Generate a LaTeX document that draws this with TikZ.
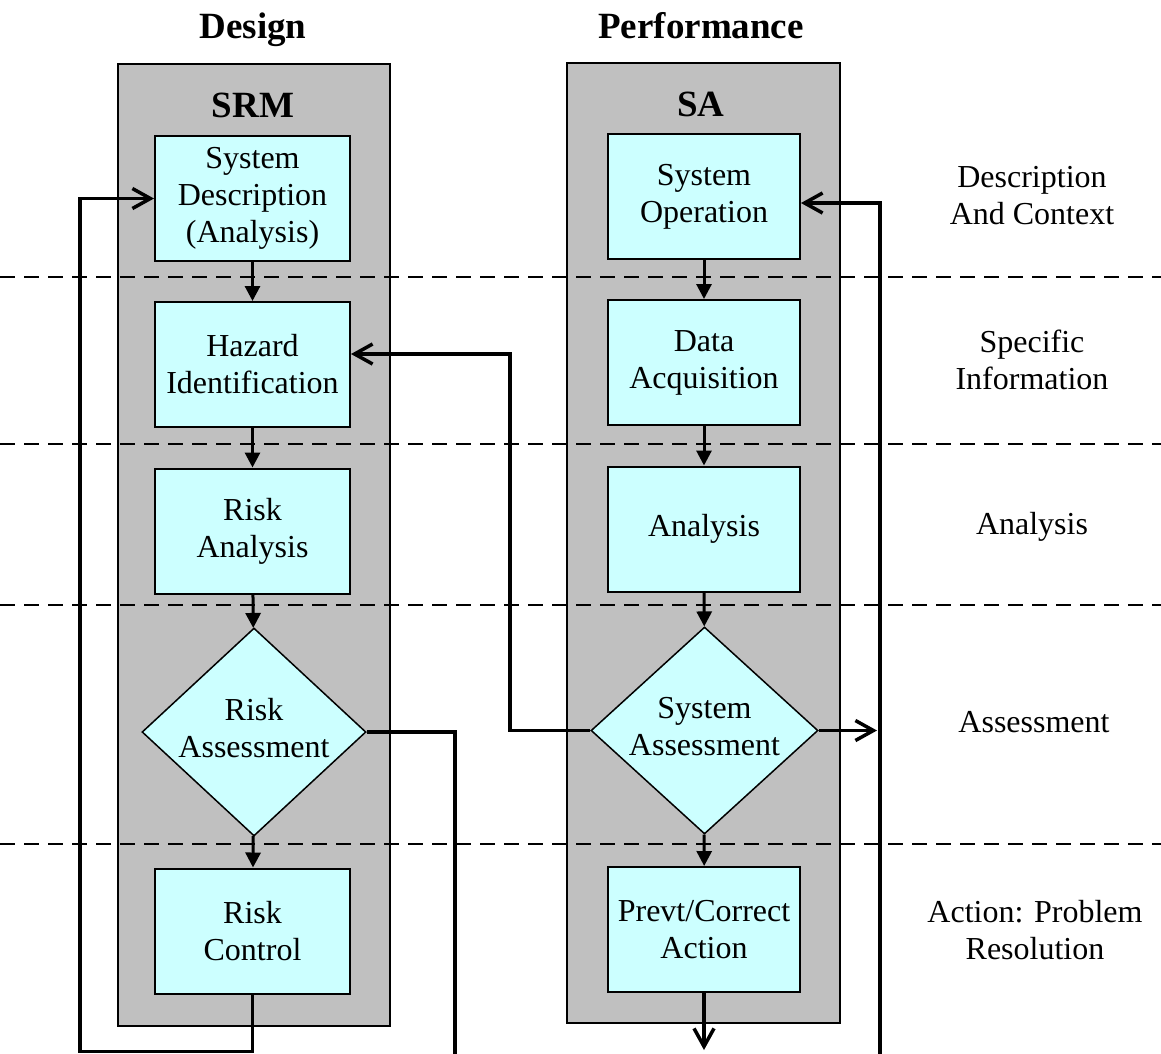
\documentclass[tikz,border=0pt]{standalone}
\usepackage{fontspec}
\setmainfont{Liberation Serif}
\usetikzlibrary{shapes.geometric,arrows.meta}
\definecolor{colgray}{HTML}{C0C0C0}
\definecolor{boxcyan}{HTML}{CCFFFF}
\tikzset{
  column/.style={draw=black, line width=1.5pt, fill=colgray, inner sep=0pt},
  procbox/.style={draw=black, line width=2pt, fill=boxcyan, minimum height=125pt, align=center, inner sep=0pt, font=\fontsize{32}{37}\selectfont},
  decbox/.style={draw=black, line width=1.5pt, fill=boxcyan, diamond, inner sep=0pt},
  dectext/.style={align=center, font=\fontsize{32}{37}\selectfont, yshift=4pt},
  title/.style={font=\fontsize{37}{42}\selectfont\bfseries, text height=25pt, text depth=8pt},
  sidelabel/.style={align=center, font=\fontsize{32}{37}\selectfont},
  sep/.style={draw=black, line width=1.5pt, dash pattern=on 15pt off 9pt},
  flow/.style={draw=black, line width=3pt, -{Triangle[length=15pt,width=15pt]}},
  conn/.style={draw=black, line width=3.5pt},
  barb/.style={draw=black, line width=3.5pt, -{Straight Barb[length=18pt,width=20pt]}},
}
\begin{document}
\begin{tikzpicture}[x=1pt,y=-1pt]
\useasboundingbox (0,0) rectangle (1161,1053);
% columns
\node[column, minimum width=272pt, minimum height=962pt] (colL) at (254,545) {};
\node[column, minimum width=273pt, minimum height=960pt] (colR) at (703.5,543) {};
% titles
\node[title] (tDesign) at (253,29.5) {Design};
\node[title] (tPerf) at (701,29.5) {Performance};
\node[title] (tSRM) at (253,108.5) {SRM};
\node[title] (tSA) at (701,107.5) {SA};
% dashed separators
\coordinate (d1a) at (0,277); \coordinate (d1b) at (1161,277);
\coordinate (d2a) at (0,444); \coordinate (d2b) at (1161,444);
\coordinate (d3a) at (0,605); \coordinate (d3b) at (1161,605);
\coordinate (d4a) at (0,844); \coordinate (d4b) at (1161,844);
\draw[sep] (d1a) -- (d1b);
\draw[sep] (d2a) -- (d2b);
\draw[sep] (d3a) -- (d3b);
\draw[sep] (d4a) -- (d4b);
% left boxes
\node[procbox, minimum width=195pt] (sd) at (252.5,198.5) {System\\Description\\(Analysis)};
\node[procbox, minimum width=195pt] (hz) at (252.5,364.5) {Hazard\\Identification};
\node[procbox, minimum width=195pt] (ran) at (252.5,531) {Risk\\Analysis};
\node[decbox, minimum width=224pt, minimum height=208pt, label={[dectext]center:Risk\\Assessment}] (ras) at (254,732) {};
\node[procbox, minimum width=195pt] (rc) at (252.5,931) {Risk\\Control};
% right boxes
\node[procbox, minimum width=192pt] (so) at (704,196.5) {System\\Operation};
\node[procbox, minimum width=192pt] (da) at (704,362.5) {Data\\Acquisition};
\node[procbox, minimum width=192pt] (an) at (704,529) {Analysis};
\node[decbox, minimum width=227pt, minimum height=207pt, label={[dectext]center:System\\Assessment}] (sas) at (704.5,730.5) {};
\node[procbox, minimum width=192pt] (pc) at (704,929.5) {Prevt/Correct\\Action};
% side labels
\node[sidelabel] (l1) at (1032,196) {Description\\And Context};
\node[sidelabel] (l2) at (1032,360) {Specific\\Information};
\node[sidelabel] (l3) at (1032,527) {Analysis};
\node[sidelabel] (l4) at (1034,722) {Assessment};
\node[sidelabel] (l5) at (1035,930) {Action: Problem\\Resolution};
% vertical flow
\draw[flow] (sd) -- (hz);
\draw[flow] (hz) -- (ran);
\draw[flow] (ran) -- (ras);
\draw[flow] (ras) -- (rc);
\draw[flow] (so) -- (da);
\draw[flow] (da) -- (an);
\draw[flow] (an) -- (sas);
\draw[flow] (sas) -- (pc);
% feedback loops
\coordinate (lb) at (80,1051.5);
\draw[barb] (rc.south) |- (lb) |- (sd.west);
\coordinate (rb) at (455,1058);
\draw[conn] (ras.east) -| (rb);
\coordinate (mid) at (510,354);
\draw[barb] (sas.west) -| (mid) -- (mid -| hz.east);
\coordinate (rv) at (877,730.5);
\draw[barb] (sas.east) -- (rv);
\coordinate (rtop) at (880,203);
\coordinate (rbot) at (880,1058);
\draw[barb] (rbot) -- (rtop) -- (rtop -| so.east);
\coordinate (pend) at (704,1050);
\draw[barb] (pc.south) -- (pend);
\end{tikzpicture}
\end{document}
